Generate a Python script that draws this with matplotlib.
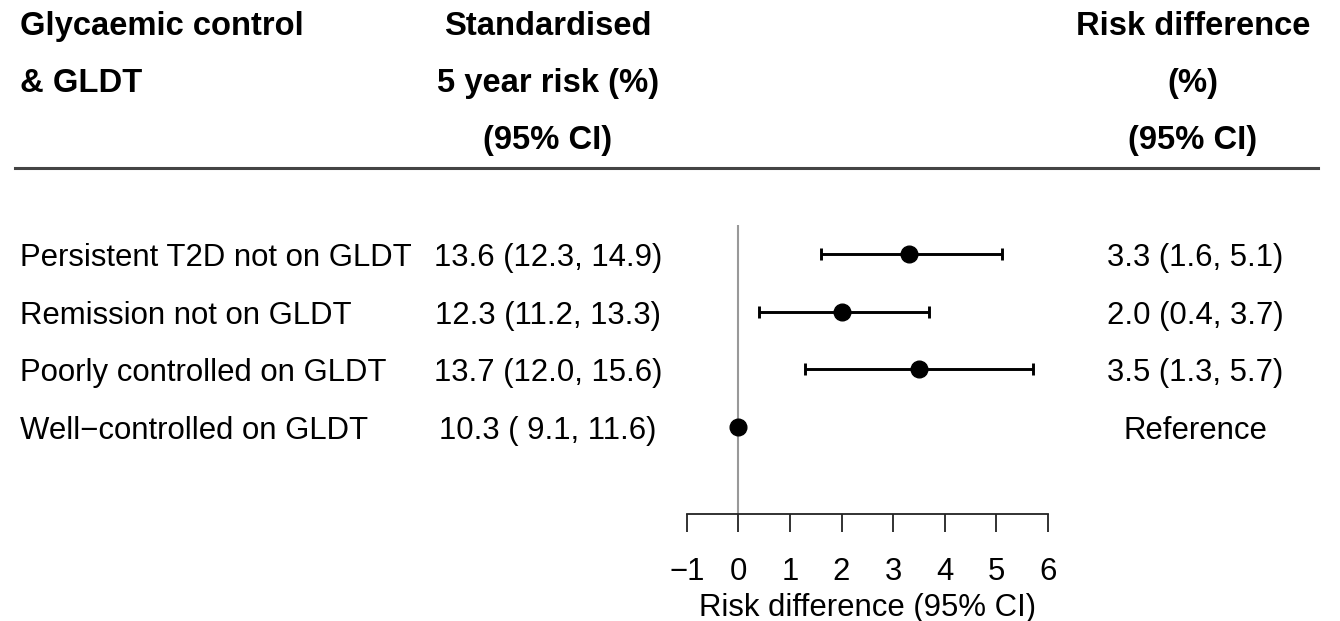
import matplotlib.pyplot as plt
import matplotlib.transforms as mtransforms

plt.rcParams["font.family"] = ["Liberation Sans", "DejaVu Sans"]

groups = ["Persistent T2D not on GLDT", "Remission not on GLDT",
          "Poorly controlled on GLDT", "Well\u2212controlled on GLDT"]
risk = [13.6, 12.3, 13.7, 10.3]
risk_lo = [12.3, 11.2, 12.0, 9.1]
risk_hi = [14.9, 13.3, 15.6, 11.6]
rd = [3.3, 2.0, 3.5, 0.0]
rd_lo = [1.6, 0.4, 1.3, None]
rd_hi = [5.1, 3.7, 5.7, None]
xticks = [-1, 0, 1, 2, 3, 4, 5, 6]

W, H = 1340, 621
FS = 22.4
FS_HDR = 23.6


def fx(px):
    return px / W


def fy(py):
    return 1 - py / H


fig = plt.figure(figsize=(W / 100, H / 100), dpi=100)

# forest panel
ax = fig.add_axes([fx(686.7), fy(514), fx(1048) - fx(686.7), (514 - 225) / H])
ax.set_xlim(-1, 6)
ax.set_ylim(4.506, -0.503)
ax.axvline(0, color="#999999", lw=1.5, zorder=1)

for i in range(len(groups)):
    if rd_lo[i] is not None:
        ax.errorbar(rd[i], i, xerr=[[rd[i] - rd_lo[i]], [rd_hi[i] - rd[i]]],
                    fmt="o", color="black", ms=12, elinewidth=2.1,
                    capsize=4.3, capthick=2.1, zorder=3, clip_on=False)
    else:
        ax.plot(rd[i], i, "o", color="black", ms=12, zorder=3, clip_on=False)

for s in ["top", "right", "left"]:
    ax.spines[s].set_visible(False)
ax.spines["bottom"].set_color("#222222")
ax.spines["bottom"].set_linewidth(1.3)
ax.set_yticks([])
ax.set_xticks(xticks)
ax.tick_params(axis="x", direction="out", length=13, width=1.3,
               color="#222222", labelsize=FS, pad=18)
ax.set_xlabel("Risk difference (95% CI)", fontsize=FS, labelpad=4)

# text columns, rows follow the forest axis (baseline a little below the dot)
tr = mtransforms.blended_transform_factory(fig.transFigure, ax.transData)
tr = mtransforms.offset_copy(tr, fig=fig, y=-12, units="dots")
for i, g in enumerate(groups):
    fig.text(fx(20), i, g, transform=tr, ha="left", va="baseline", fontsize=FS)
    fig.text(fx(548), i, f"{risk[i]:.1f} ({risk_lo[i]:4.1f}, {risk_hi[i]:4.1f})",
             transform=tr, ha="center", va="baseline", fontsize=FS)
    if rd_lo[i] is not None:
        lab = f"{rd[i]:.1f} ({rd_lo[i]:.1f}, {rd_hi[i]:.1f})"
    else:
        lab = "Reference"
    fig.text(fx(1195), i, lab, transform=tr, ha="center", va="baseline", fontsize=FS)

# header
hdr = dict(fontsize=FS_HDR, fontweight="bold", va="baseline")
fig.text(fx(20), fy(35), "Glycaemic control", ha="left", **hdr)
fig.text(fx(20), fy(92), "& GLDT", ha="left", **hdr)
fig.text(fx(548), fy(35), "Standardised", ha="center", **hdr)
fig.text(fx(548), fy(92), "5 year risk (%)", ha="center", **hdr)
fig.text(fx(548), fy(149), "(95% CI)", ha="center", **hdr)
fig.text(fx(1193), fy(35), "Risk difference", ha="center", **hdr)
fig.text(fx(1193), fy(92), "(%)", ha="center", **hdr)
fig.text(fx(1193), fy(149), "(95% CI)", ha="center", **hdr)
fig.add_artist(plt.Line2D([fx(15), fx(1318)], [fy(168), fy(168)],
                          color="#444444", lw=2.2))

fig.savefig("out.png", dpi=100)
